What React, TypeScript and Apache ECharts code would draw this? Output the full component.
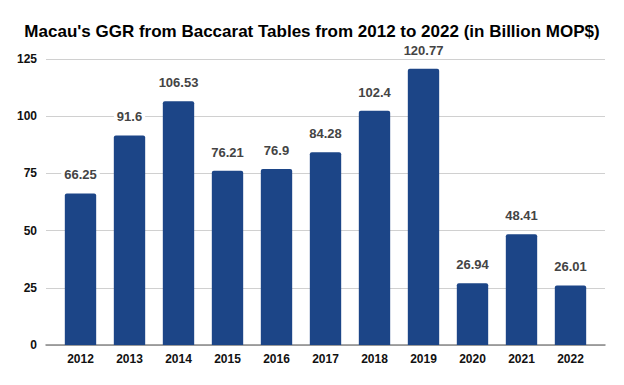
import React, { useEffect, useRef } from "react";
import * as echarts from "echarts";

const years = ["2012", "2013", "2014", "2015", "2016", "2017", "2018", "2019", "2020", "2021", "2022"];
const ggr = [66.25, 91.6, 106.53, 76.21, 76.9, 84.28, 102.4, 120.77, 26.94, 48.41, 26.01];
const yTicks = [0, 25, 50, 75, 100, 125];

const font = "Liberation Sans, Arial";

export default function App() {
  const ref = useRef<HTMLDivElement>(null);
  useEffect(() => {
    const chart = echarts.init(ref.current!, null, { renderer: "svg" });
    const yMin = yTicks[0];
    const yMax = yTicks[yTicks.length - 1];
    chart.setOption({
      animation: false,
      backgroundColor: "#ffffff",
      title: {
        text: "Macau's GGR from Baccarat Tables from 2012 to 2022 (in Billion MOP$)",
        left: "center",
        top: 18,
        textStyle: { fontFamily: font, fontWeight: "bold", fontSize: 17, color: "#000" },
      },
      grid: [
        { left: 46, right: 19, top: 59, bottom: 40 },
        { left: 56, right: 29, top: 59, bottom: 40 },
      ],
      xAxis: [
        {
          type: "value",
          gridIndex: 0,
          show: true,
          min: 0,
          max: 1,
          axisLabel: { show: false },
          axisTick: { show: false },
          splitLine: { show: false },
          axisLine: { show: true, lineStyle: { color: "#888", width: 1.5 } },
        },
        {
          type: "category",
          gridIndex: 1,
          data: years,
          axisTick: { show: false },
          axisLine: { show: false },
          axisLabel: { color: "#111", fontWeight: "bold", fontSize: 12, fontFamily: font, margin: 8 },
        },
      ],
      yAxis: [
        {
          type: "value",
          gridIndex: 0,
          min: yMin,
          max: yMax,
          interval: 25,
          axisLine: { show: false },
          axisTick: { show: false },
          splitLine: { lineStyle: { color: "#d0d0d0" } },
          axisLabel: { color: "#111", fontWeight: "bold", fontSize: 12, fontFamily: font, margin: 9 },
        },
        {
          type: "value",
          gridIndex: 1,
          min: yMin,
          max: yMax,
          interval: 25,
          show: false,
          splitLine: { show: false },
        },
      ],
      series: [
        {
          type: "bar",
          xAxisIndex: 1,
          yAxisIndex: 1,
          data: ggr,
          barWidth: "64%",
          itemStyle: { color: "#1c4587", borderRadius: [2, 2, 0, 0] },
          label: {
            show: true,
            position: "top",
            distance: 12,
            color: "#444",
            fontWeight: "bold",
            fontSize: 13,
            fontFamily: font,
            backgroundColor: "#fff",
            padding: [0, 3],
          },
        },
      ],
    });
    return () => chart.dispose();
  }, []);
  return <div ref={ref} style={{ width: 624, height: 385, position: "absolute", left: 0, top: 0 }} />;
}
